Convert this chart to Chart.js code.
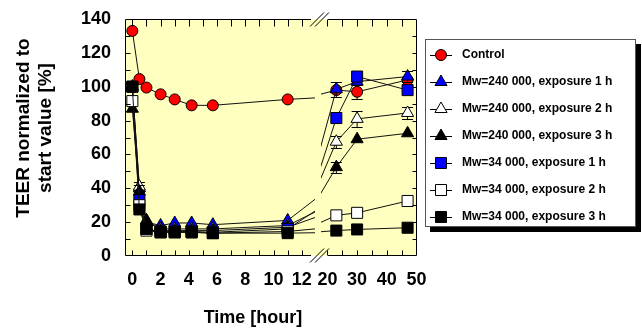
<!DOCTYPE html>
<html>
<head>
<meta charset="utf-8">
<script src="https://cdn.jsdelivr.net/npm/chart.js@4.4.0/dist/chart.umd.min.js"></script>
<style>
    html, body { margin: 0; padding: 0; background: #fff; }
    canvas { display: block; }
</style>
</head>
<body>
<canvas id="chart" width="642" height="329"></canvas>
<script>
// Time points (hours)
const hours = [0, 0.5, 1, 2, 3, 4.2, 5.7, 11, 23, 30, 47];

// TEER normalized to start value [%]
const control   = [133, 104.5, 99.5, 95.5, 92.5, 89, 89, 92.5, 98, 97, 104];
const mw240exp1 = [100, 40, 20, 18, 19.5, 19.5, 18.5, 21, 98.5, 103, 106];
const mw240exp2 = [100, 41, 21, 16, 16, 16, 16, 18, 67.5, 81, 84.5];
const mw240exp3 = [87, 38, 21, 15, 15, 15, 15, 17, 52.5, 69, 72.5];
const mw34exp1  = [100, 33, 16, 14.5, 14.5, 14.5, 14, 16, 81.5, 106, 98];
const mw34exp2  = [91.5, 30, 15, 14, 14, 14, 13.5, 14.5, 24, 25.5, 32.5];
const mw34exp3  = [100, 27.5, 16, 14, 14, 14, 13.5, 13.5, 15, 15.7, 16.7];

// Error bars (+/-), 0 = none drawn
const controlErr   = [0, 0, 0, 0, 0, 0, 0, 0, 0, 4, 0];
const mw240exp1Err = [0, 0, 0, 0, 0, 0, 0, 0, 4.5, 0, 3.5];
const mw240exp2Err = [0, 3, 0, 0, 0, 0, 0, 0, 3.6, 4.8, 3.8];
const mw240exp3Err = [0, 4, 0, 0, 0, 0, 0, 0, 3.3, 0, 0];
const noErr        = [0, 0, 0, 0, 0, 0, 0, 0, 0, 0, 0];

const seriesLabels = ['Control', 'Mw=240 000, exposure 1 h', 'Mw=240 000, exposure 2 h',
    'Mw=240 000, exposure 3 h', 'Mw=34 000, exposure 1 h', 'Mw=34 000, exposure 2 h',
    'Mw=34 000, exposure 3 h'];

// Axis ticks
const yTicks = [0, 20, 40, 60, 80, 100, 120, 140];
const xTicksLeft = [0, 2, 4, 6, 8, 10, 12];
const xTicksRight = [20, 30, 40, 50];

// Look
const FONT = "'Liberation Sans', Arial, sans-serif";
const plotBg = '#ffffc0';
const styles = [
    { shape: 'circle',   fill: '#ff0000', r: 5.5 },
    { shape: 'triangle', fill: '#0000ff', r: 7 },
    { shape: 'triangle', fill: '#ffffff', r: 7 },
    { shape: 'triangle', fill: '#000000', r: 7 },
    { shape: 'rect',     fill: '#0000ff', r: 7.8 },
    { shape: 'rect',     fill: '#ffffff', r: 7.8 },
    { shape: 'rect',     fill: '#000000', r: 7.8 }
];
const allData = [control, mw240exp1, mw240exp2, mw240exp3, mw34exp1, mw34exp2, mw34exp3];
const allErr = [controlErr, mw240exp1Err, mw240exp2Err, mw240exp3Err, noErr, noErr, noErr];

// Plot frame and axis break (pixels)
const AREA = { left: 125, top: 19, right: 416.5, bottom: 256 };
const BREAK_AXIS = [311, 328];   // gap in the frame lines
const BREAK_DATA = [315, 321];   // gap in the data lines

// Each series is drawn twice: once on the left (0-12 h) scale, once on the right (20-50 h) scale
const datasets = [];
allData.forEach((vals, i) => {
    const st = styles[i];
    const common = {
        label: seriesLabels[i],
        data: hours.map((h, k) => ({ x: h, y: vals[k] })),
        errors: allErr[i],
        pointStyle: st.shape,
        pointRadius: st.r,
        pointBackgroundColor: st.fill,
        pointBorderColor: '#000',
        pointBorderWidth: 1,
        borderColor: '#111',
        borderWidth: 1,
        tension: 0,
        fill: false,
        order: allData.length - i
    };
    datasets.push(Object.assign({}, common, {
        xAxisID: 'xl', side: 'left',
        clip: { left: 10, top: 10, bottom: 10, right: -(AREA.right - BREAK_DATA[0]) }
    }));
    datasets.push(Object.assign({}, common, {
        xAxisID: 'xr', side: 'right',
        clip: { left: -(BREAK_DATA[1] - AREA.left), top: 10, bottom: 10, right: 10 }
    }));
});

function line(ctx, x1, y1, x2, y2) {
    ctx.beginPath();
    ctx.moveTo(x1, y1);
    ctx.lineTo(x2, y2);
    ctx.stroke();
}

const decor = {
    id: 'decor',
    beforeDraw(chart) {
        const ctx = chart.ctx;
        const a = chart.chartArea;
        ctx.save();
        ctx.fillStyle = plotBg;
        ctx.fillRect(a.left, a.top, a.right - a.left, a.bottom - a.top);
        ctx.restore();
    },
    beforeDatasetDraw(chart, args) {
        // error bars under the markers of their own series
        const ds = chart.data.datasets[args.index];
        const y = chart.scales.y;
        const ctx = chart.ctx;
        ctx.save();
        ctx.strokeStyle = '#000';
        ctx.lineWidth = 1;
        args.meta.data.forEach((pt, k) => {
            const e = ds.errors[k];
            if (!e) return;
            if (ds.side === 'left' && pt.x > BREAK_DATA[0]) return;
            if (ds.side === 'right' && pt.x < BREAK_DATA[1]) return;
            const v = ds.data[k].y;
            const y1 = Math.round(y.getPixelForValue(v + e)) + 0.5;
            const y2 = Math.round(y.getPixelForValue(v - e)) + 0.5;
            line(ctx, pt.x, y1, pt.x, y2);
            line(ctx, pt.x - 5.5, y1, pt.x + 5.5, y1);
            line(ctx, pt.x - 5.5, y2, pt.x + 5.5, y2);
        });
        ctx.restore();
    },
    afterDatasetsDraw(chart) {
        const ctx = chart.ctx;
        const a = chart.chartArea;
        const xl = chart.scales.xl, xr = chart.scales.xr, y = chart.scales.y;
        const L = Math.round(a.left) + 0.5, R = Math.round(a.right) - 0.5;
        const T = Math.round(a.top) + 0.5, B = Math.round(a.bottom) - 0.5;
        ctx.save();
        ctx.strokeStyle = '#000';
        ctx.lineWidth = 1;
        // frame with break
        line(ctx, L, T, L, B);
        line(ctx, R, T, R, B);
        line(ctx, L, T, BREAK_AXIS[0], T);
        line(ctx, BREAK_AXIS[1], T, R, T);
        line(ctx, L, B, BREAK_AXIS[0], B);
        line(ctx, BREAK_AXIS[1], B, R, B);
        // inner ticks on x
        for (let h = 0; h <= 12; h++) {
            const x = Math.round(xl.getPixelForValue(h)) + 0.5;
            line(ctx, x, T, x, T + 7);
            line(ctx, x, B, x, B - 5);
        }
        for (let h = 20; h < 50; h += 5) {
            const x = Math.round(xr.getPixelForValue(h)) + 0.5;
            line(ctx, x, T, x, T + 7);
            line(ctx, x, B, x, B - 5);
        }
        // inner ticks on y
        for (let v = 10; v < 140; v += 10) {
            const py = Math.round(y.getPixelForValue(v)) + 0.5;
            line(ctx, L, py, L + 5, py);
            line(ctx, R, py, R - 4, py);
        }
        // break marks
        const cx = (BREAK_AXIS[0] + BREAK_AXIS[1]) / 2;
        [T, B].forEach(yy => {
            line(ctx, cx - 9.5, yy + 7, cx + 4.5, yy - 7);
            line(ctx, cx - 4.5, yy + 7, cx + 9.5, yy - 7);
        });
        ctx.restore();
    },
    afterDraw(chart) {
        const ctx = chart.ctx;
        const a = chart.chartArea;
        ctx.save();
        // tick labels of the right (20-50 h) segment
        ctx.fillStyle = '#000';
        ctx.textAlign = 'center';
        ctx.textBaseline = 'middle';
        ctx.font = 'bold 18px ' + FONT;
        xTicksRight.forEach(v => {
            ctx.fillText(String(v), chart.scales.xr.getPixelForValue(v), a.bottom + 13 + 10.8);
        });
        // axis titles
        ctx.fillText('Time [hour]', 253, 318);
        ctx.save();
        ctx.translate(24, 128);
        ctx.rotate(-Math.PI / 2);
        ctx.font = 'bold 19px ' + FONT;
        ctx.fillText('TEER normalized to', 0, 0);
        ctx.fillText('start value [%]', 0, 22);
        ctx.restore();

        // legend box with shadow
        const box = { x: 425, y: 39, w: 211, h: 188 };
        ctx.fillStyle = '#000';
        ctx.fillRect(box.x + 5, box.y + 5, box.w, box.h);
        ctx.fillStyle = '#fff';
        ctx.fillRect(box.x, box.y, box.w, box.h);
        ctx.strokeStyle = '#555';
        ctx.lineWidth = 1;
        ctx.strokeRect(box.x + 0.5, box.y + 0.5, box.w - 1, box.h - 1);

        seriesLabels.forEach((lab, i) => {
            const ry = 55 + i * 27;
            const st = styles[i];
            ctx.strokeStyle = '#000';
            line(ctx, 430, ry + 0.5, 452, ry + 0.5);
            ctx.fillStyle = st.fill;
            Chart.helpers.drawPoint(ctx, { pointStyle: st.shape, radius: st.r, rotation: 0, borderWidth: 1 }, 441, ry);
            ctx.fillStyle = '#000';
            ctx.font = 'bold 12px ' + FONT;
            ctx.textAlign = 'left';
            ctx.fillText(lab, 462, ry);
        });
        ctx.restore();
    }
};

const tickFont = { family: FONT, size: 18, weight: 'bold' };

new Chart(document.getElementById('chart'), {
    type: 'line',
    data: { datasets: datasets },
    options: {
        responsive: false,
        animation: false,
        events: [],
        layout: { padding: { left: 0, top: AREA.top, right: 642 - AREA.right, bottom: 0 } },
        plugins: { legend: { display: false }, tooltip: { enabled: false } },
        scales: {
            xl: {
                type: 'linear', position: 'bottom',
                min: -0.52, max: 20.12,
                grid: { display: false, drawTicks: false },
                border: { display: false },
                ticks: { autoSkip: false, maxRotation: 0, padding: 13, color: '#000', font: tickFont },
                afterBuildTicks: (s) => { s.ticks = xTicksLeft.map(v => ({ value: v })); },
                afterFit: (s) => { s.height = 329 - AREA.bottom; s.paddingLeft = 0; s.paddingRight = 0; }
            },
            xr: {
                type: 'linear', display: false,
                min: -48.18, max: 50
            },
            y: {
                type: 'linear', min: 0, max: 140,
                grid: { display: false, drawTicks: false },
                border: { display: false },
                ticks: { padding: 14, color: '#000', font: tickFont },
                afterBuildTicks: (s) => { s.ticks = yTicks.map(v => ({ value: v })); },
                // keep the plot box where the original has it
                afterFit: (s) => { s.width = AREA.left; s.paddingTop = 0; s.paddingBottom = 0; }
            }
        }
    },
    plugins: [decor]
});
</script>
</body>
</html>
